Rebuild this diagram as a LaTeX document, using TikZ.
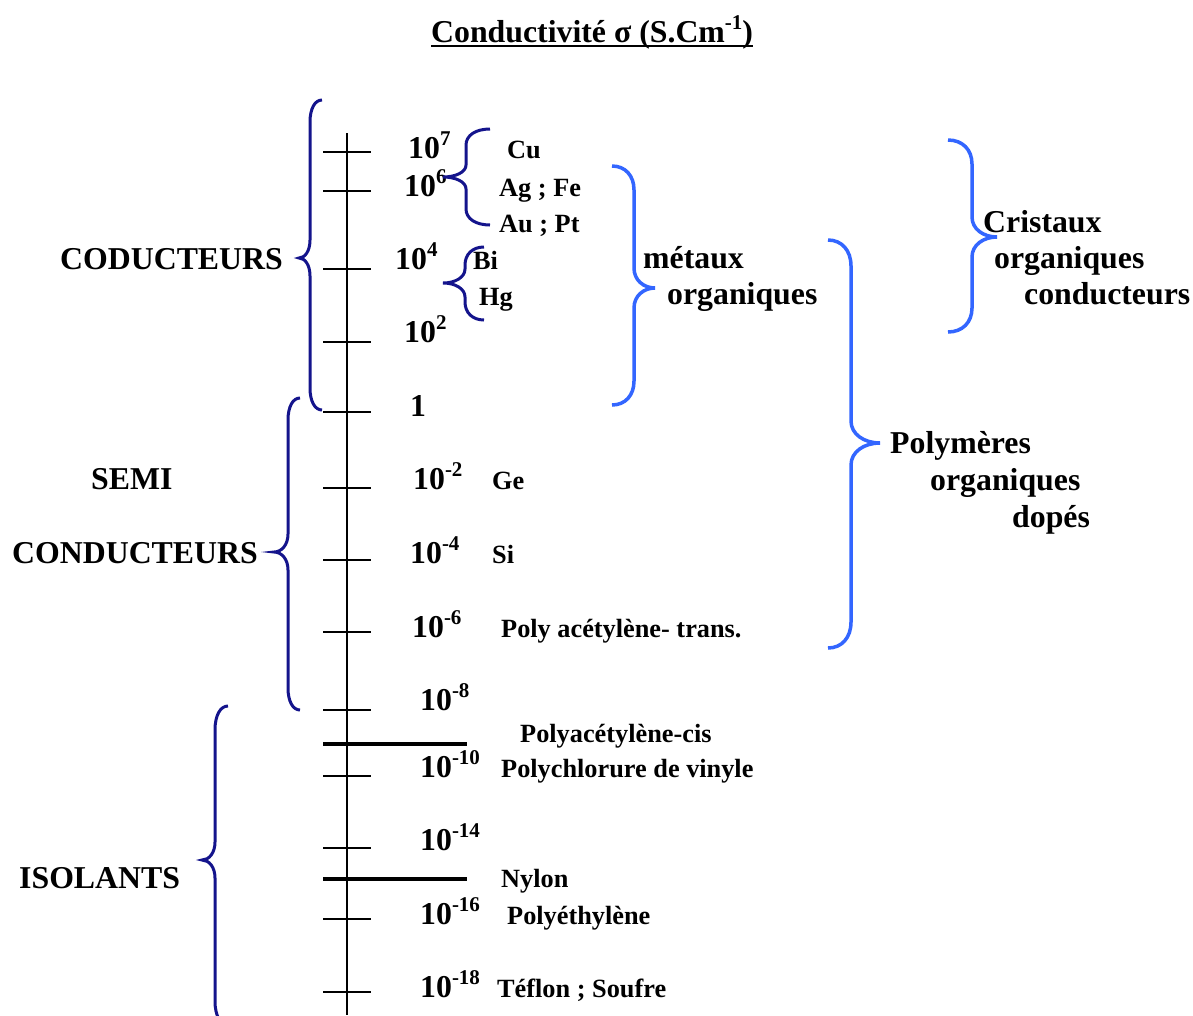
\documentclass[tikz,border=0pt]{standalone}
\usepackage{fontspec}
\setmainfont{Liberation Serif}
\definecolor{navy}{RGB}{20,20,140}
\definecolor{lblue}{RGB}{51,102,255}
\newcommand\supx[1]{\raisebox{13pt}{\fontsize{21}{21}\selectfont #1}}
% end-x, top-y, bottom-y, spine-x, tip-x, tip-y, end radius, tip radius, style
\newcommand\mybrace[9]{\draw[#9] (#1,#2) .. controls (#1+0.6*#4-0.6*#1,#2) and (#4,#2+0.4*#7) .. (#4,#2+#7) -- (#4,#6-#8) .. controls (#4,#6-0.4*#8) and (#4+0.45*#5-0.45*#4,#6) .. (#5,#6) .. controls (#4+0.45*#5-0.45*#4,#6) and (#4,#6+0.4*#8) .. (#4,#6+#8) -- (#4,#3-#7) .. controls (#4,#3-0.4*#7) and (#1+0.6*#4-0.6*#1,#3) .. (#1,#3);}
\begin{document}
\begin{tikzpicture}[x=1pt,y=-1pt,
 big/.style={font=\fontsize{31.8}{37}\selectfont\bfseries, inner sep=0pt, anchor=base west},
 small/.style={font=\fontsize{26.3}{31}\selectfont\bfseries, inner sep=0pt, anchor=base west},
 axisline/.style={line width=2pt},
 tickline/.style={line width=1.8pt},
 sepline/.style={line width=3.5pt},
 nbrace/.style={draw=navy, line width=3pt},
 bbrace/.style={draw=lblue, line width=3.5pt}]
\useasboundingbox (0,0) rectangle (1193,1015);
\clip (0,0) rectangle (1193,1015);
\fill[white] (0,0) rectangle (1193,1015);
% title
\node[big] (title) at (431,42) {Conductivité σ (S.Cm\supx{-1})};
\draw[line width=2.5pt] ([yshift=-4pt]title.base west) -- ([yshift=-4pt]title.base east);
% axis
\coordinate (axtop) at (347,133);
\coordinate (axbot) at (347,1015);
\draw[axisline] (axtop) -- (axbot);
\foreach \y in {152,191,269,342,412,488,560,632,710,776,848,919,992}
  \draw[tickline] (323,\y) -- (371,\y);
\coordinate (s1a) at (323,744); \coordinate (s1b) at (467,744);
\coordinate (s2a) at (323,879); \coordinate (s2b) at (467,879);
\draw[sepline] (s1a) -- (s1b);
\draw[sepline] (s2a) -- (s2b);
% scale labels
\node[big] (e7) at (408,158) {10\supx{7}};
\node[big] (e6) at (404,196) {10\supx{6}};
\node[big] (e4) at (395,269) {10\supx{4}};
\node[big] (e2) at (404,342) {10\supx{2}};
\node[big] (e0) at (410,416) {1};
\node[big] (em2) at (413,489) {10\supx{-2}};
\node[big] (em4) at (410,563) {10\supx{-4}};
\node[big] (em6) at (412,637) {10\supx{-6}};
\node[big] (em8) at (420,710) {10\supx{-8}};
\node[big] (em10) at (420,777) {10\supx{-10}};
\node[big] (em14) at (420,850) {10\supx{-14}};
\node[big] (em16) at (420,924) {10\supx{-16}};
\node[big] (em18) at (420,997) {10\supx{-18}};
% materials
\node[small] (cu) at (507,158) {Cu};
\node[small] (agfe) at (499,196) {Ag ; Fe};
\node[small] (aupt) at (499,232) {Au ; Pt};
\node[small] (bi) at (473,269) {Bi};
\node[small] (hg) at (479,305) {Hg};
\node[small] (ge) at (492,489) {Ge};
\node[small] (si) at (492,563) {Si};
\node[small] (pat) at (501,637) {Poly acétylène- trans.};
\node[small] (pac) at (520,742) {Polyacétylène-cis};
\node[small] (pcv) at (501,777) {Polychlorure de vinyle};
\node[small] (nyl) at (501,887) {Nylon};
\node[small] (pe) at (507,924) {Polyéthylène};
\node[small] (tef) at (497,997) {Téflon ; Soufre};
% classes
\node[big] (cond) at (60,269) {CODUCTEURS};
\node[big] (semi) at (91,489) {SEMI};
\node[big] (semi2) at (12,563) {CONDUCTEURS};
\node[big] (iso) at (19,888) {ISOLANTS};
\node[big] (met1) at (643,268) {métaux};
\node[big] (met2) at (667,304) {organiques};
\node[big] (cri1) at (983,232) {Cristaux};
\node[big] (cri2) at (994,268) {organiques};
\node[big] (cri3) at (1024,304) {conducteurs};
\node[big] (pol1) at (890,453) {Polymères};
\node[big] (pol2) at (930,490) {organiques};
\node[big] (pol3) at (1012,527) {dopés};
% braces
\mybrace{322}{100}{410}{310}{299}{258}{22}{18}{nbrace}
\mybrace{300}{398}{710}{288}{274}{552}{22}{18}{nbrace}
\mybrace{228}{706}{1025}{215}{202}{860}{24}{18}{nbrace}
\mybrace{490}{129}{225}{466}{443}{177}{16}{12}{nbrace}
\mybrace{484}{247}{320}{465}{443}{283}{18}{14}{nbrace}
\mybrace{612}{166}{405}{634}{655}{288}{24}{20}{bbrace}
\mybrace{948}{140}{332}{972}{997}{237}{24}{20}{bbrace}
\mybrace{828}{240}{648}{851}{880}{443}{26}{22}{bbrace}
\end{tikzpicture}
\end{document}
